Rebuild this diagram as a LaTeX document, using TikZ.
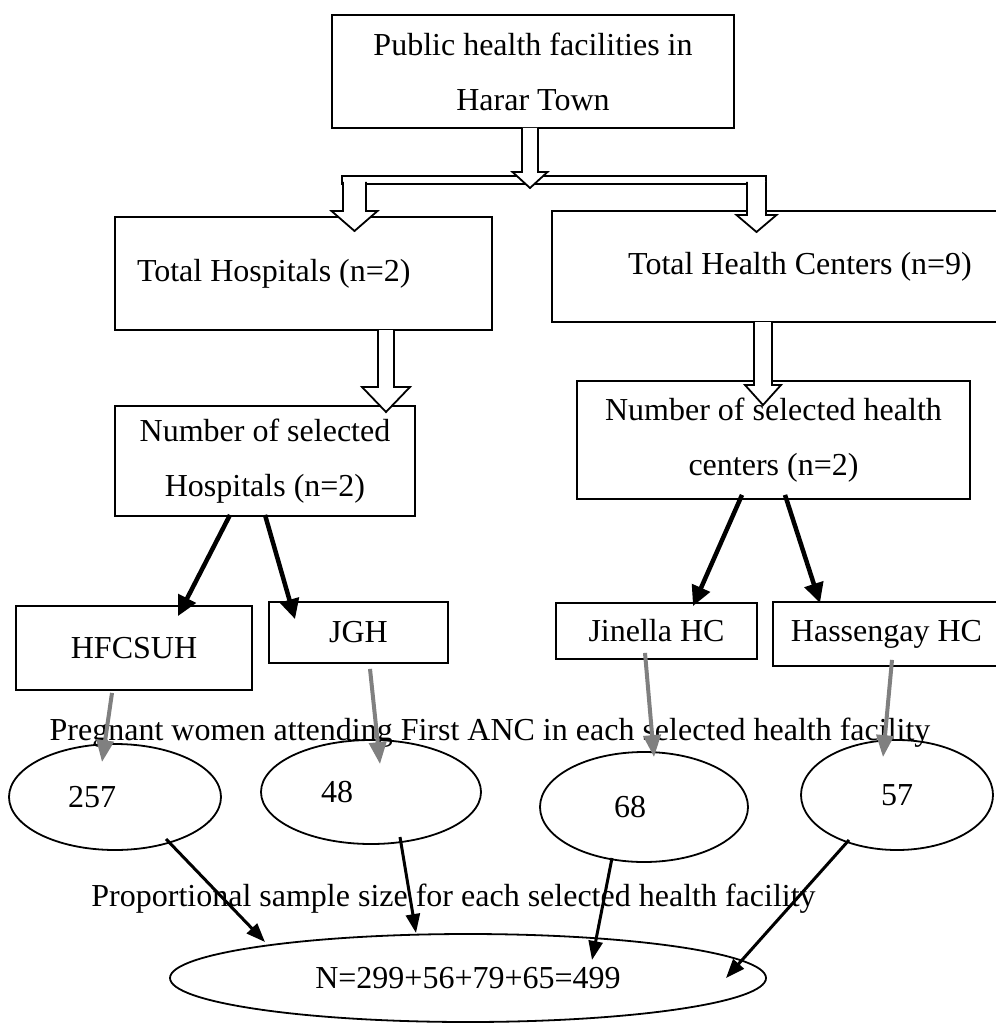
\documentclass[tikz,border=0pt]{standalone}
\usepackage{fontspec}
\setmainfont{Liberation Serif}
\usetikzlibrary{arrows.meta,shapes.geometric}

\newcommand{\hollowdown}[6]{%
  \path[hollow] ({#1-#4},#2) -- ({#1-#4},{#3-#6}) -- ({#1-#5},{#3-#6}) -- (#1,#3)
    -- ({#1+#5},{#3-#6}) -- ({#1+#4},{#3-#6}) -- ({#1+#4},#2);}

\begin{document}
\begin{tikzpicture}[x=1pt,y=-1pt,
  every node/.style={font=\fontsize{32pt}{55pt}\selectfont},
  box/.style={draw,line width=1.8pt,align=center},
  oval/.style={draw,ellipse,line width=1.8pt,inner sep=0pt},
  hollow/.style={draw,fill=white,line width=1.8pt,line join=miter},
  pick/.style={-{Triangle[length=20pt,width=19pt]},line width=4.5pt},
  feed/.style={-{Triangle[length=22pt,width=17pt]},line width=4pt,gray},
  sum/.style={-{Triangle[length=19pt,width=14pt]},line width=3pt}
]
  \useasboundingbox (0,0) rectangle (995,1024);

  \node[box,minimum width=402pt,minimum height=113pt] (top) at (533,71.5) {Public health facilities in\\Harar Town};
  \node[box,minimum width=377pt,minimum height=113pt,align=flush left,text width=333pt] (hosp) at (303.5,273.5) {Total Hospitals (n=2)};
  \node[box,minimum width=496pt,minimum height=111pt] (hc) at (800,266.5) {Total Health Centers (n=9)};
  \node[box,minimum width=300pt,minimum height=110pt] (selhosp) at (265,461) {Number of selected\\Hospitals (n=2)};
  \node[box,minimum width=393pt,minimum height=118pt] (selhc) at (773.5,440) {Number of selected health\\centers (n=2)};
  \node[box,minimum width=236pt,minimum height=84pt] (hfcsuh) at (134,648) {HFCSUH};
  \node[box,minimum width=179pt,minimum height=61pt] (jgh) at (358.5,632.5) {JGH};
  \node[box,minimum width=201pt,minimum height=56pt] (jinella) at (656.5,631) {Jinella HC};
  \node[box,minimum width=227pt,minimum height=64pt] (hass) at (886.5,634) {Hassengay HC};

  \node[anchor=base] (preg) at (490,740) {Pregnant women attending First ANC in each selected health facility};
  \node[oval,minimum width=212pt,minimum height=106pt,align=flush left,text width=94pt] (n257) at (115,797) {257};
  \node[oval,minimum width=220pt,minimum height=104pt,align=flush left,text width=100pt] (n48) at (371,792) {48};
  \node[oval,minimum width=208pt,minimum height=110pt,align=flush left,text width=60pt] (n68) at (644,807) {68};
  \node[oval,minimum width=192pt,minimum height=110pt] (n57) at (897,795) {57};
  \node[anchor=base] (prop) at (453.5,906) {Proportional sample size for each selected health facility};
  \node[oval,minimum width=596pt,minimum height=88pt] (total) at (468,978) {N=299+56+79+65=499};

  \path[hollow] (342,176) rectangle (766,184);
  \hollowdown{530}{128}{188}{8}{17.5}{16}
  \hollowdown{354.5}{182}{231}{11.5}{23}{20}
  \hollowdown{756.5}{182}{232}{9.5}{20}{17}
  \hollowdown{386}{330}{412}{8}{24}{25}
  \hollowdown{763}{322}{405}{9}{18}{20}

  \draw[pick] ([shift={(-35,-2)}]selhosp.south) -- ([shift={(44,11)}]hfcsuh.north);
  \draw[pick] ([shift={(0,-2)}]selhosp.south) -- ([shift={(-63.5,18)}]jgh.north);
  \draw[pick] ([shift={(-31.5,-5)}]selhc.south) -- ([shift={(36.5,4)}]jinella.north);
  \draw[pick] ([shift={(11.5,-5)}]selhc.south) -- ([shift={(-66.5,2)}]hass.north);

  \draw[feed] ([shift={(-22,2)}]hfcsuh.south) -- ([shift={(-13,19)}]n257.north);
  \draw[feed] ([shift={(11.5,5)}]jgh.south) -- ([shift={(9,25)}]n48.north);
  \draw[feed] ([shift={(-11.5,-7)}]jinella.south) -- ([shift={(10,6)}]n68.north);
  \draw[feed] ([shift={(5.5,-7)}]hass.south) -- ([shift={(-14,18)}]n57.north);

  \draw[sum] ([shift={(51,42)}]n257.center) -- ([shift={(-203,-36)}]total.center);
  \draw[sum] ([shift={(29,45)}]n48.center) -- ([shift={(-52,-45)}]total.center);
  \draw[sum] ([shift={(-32,51)}]n68.center) -- ([shift={(124,-18)}]total.center);
  \draw[sum] ([shift={(-48,45)}]n57.center) -- ([shift={(258,0)}]total.center);
\end{tikzpicture}
\end{document}
